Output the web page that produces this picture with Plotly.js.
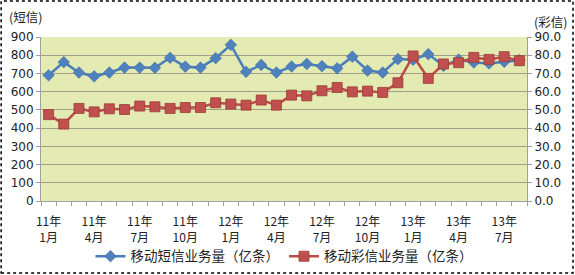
<!DOCTYPE html>
<html>
<head>
<meta charset="utf-8">
<script src="https://cdn.plot.ly/plotly-3.0.1.min.js"></script>
<style>html,body{margin:0;padding:0;background:#fff;}#chart{width:575px;height:275px;}</style>
</head>
<body>
<div id="chart"></div>
<script>
// 32 months, 2011-01 .. 2013-08
const months = ["11年1月","11年2月","11年3月","11年4月","11年5月","11年6月","11年7月","11年8月","11年9月","11年10月","11年11月","11年12月",
  "12年1月","12年2月","12年3月","12年4月","12年5月","12年6月","12年7月","12年8月","12年9月","12年10月","12年11月","12年12月",
  "13年1月","13年2月","13年3月","13年4月","13年5月","13年6月","13年7月","13年8月"];
const smsVolume = [690,762,705,684,705,732,732,731,786,737,732,784,857,709,747,705,
  738,752,740,728,792,716,705,779,775,806,742,776,760,755,764,773];
const mmsVolume = [47.4,42.2,50.8,48.9,50.6,50.2,52.1,51.7,50.8,51.3,51.3,53.9,53.2,52.6,55.4,52.6,
  58.1,57.7,60.5,62.3,59.9,60.3,59.6,64.9,79.6,67.3,75.2,75.9,78.8,77.7,79.2,77.0];
const tickLabels = ["11年<br>1月","11年<br>4月","11年<br>7月","11年<br>10月","12年<br>1月","12年<br>4月",
  "12年<br>7月","12年<br>10月","13年<br>1月","13年<br>4月","13年<br>7月"];
const seriesNames = ["移动短信业务量（亿条）","移动彩信业务量（亿条）"];
const leftTitle = "(短信)";
const rightTitle = "(彩信)";

const idx = months.map((m, i) => i);
const tickIdx = idx.filter(i => i % 3 === 0);
const FONT = "DejaVu Sans, Noto Sans CJK SC, sans-serif";
const CJK = "Noto Sans CJK SC, sans-serif";

const traces = [
  {x: idx, y: smsVolume, name: seriesNames[0], type: "scatter", mode: "lines+markers",
   line: {color: "#4a7ebb", width: 2.5},
   marker: {symbol: "diamond", size: 9, color: "#4f81bd", line: {color: "#3a6aa5", width: 0.5}},
   hovertext: months},
  {x: idx, y: mmsVolume, name: seriesNames[1], type: "scatter", mode: "lines+markers", yaxis: "y2",
   line: {color: "#be4b48", width: 2.5},
   marker: {symbol: "square", size: 10, color: "#c0504d", line: {color: "#9b3b38", width: 0.8}},
   hovertext: months}
];

const layout = {
  width: 575, height: 275,
  margin: {l: 41, r: 48, t: 37, b: 74, autoexpand: false},
  paper_bgcolor: "#ffffff",
  plot_bgcolor: "#e3eab2",
  showlegend: true,
  legend: {orientation: "h", x: 0.5, xanchor: "center", y: -0.338, yanchor: "middle",
    font: {family: CJK, size: 13.5, color: "#222"}, bgcolor: "rgba(0,0,0,0)", itemwidth: 30, tracegroupgap: 0},
  xaxis: {
    range: [-0.5, months.length - 0.5], tickmode: "array", tickvals: tickIdx, ticktext: tickLabels,
    ticks: "", showgrid: false, zeroline: false, showline: true, linecolor: "#a0a0a0", linewidth: 1,
    automargin: false, ticklabelstandoff: 10,
    tickfont: {family: CJK, size: 12, color: "#222"},
    minor: {tickmode: "linear", tick0: -0.5, dtick: 1, ticks: "outside", ticklen: 4, tickcolor: "#a0a0a0", showgrid: false}
  },
  yaxis: {
    range: [0, 900], dtick: 100, tickmode: "linear", tick0: 0, automargin: false,
    showgrid: true, gridcolor: "#a29f8c", gridwidth: 1, zeroline: false,
    showline: true, linecolor: "#a0a0a0", ticks: "outside", ticklen: 4, tickcolor: "#a0a0a0",
    tickfont: {family: FONT, size: 12, color: "#222"}
  },
  yaxis2: {
    range: [0, 90], dtick: 10, tickmode: "linear", tick0: 0, tickformat: ".1f", automargin: false,
    overlaying: "y", side: "right", showgrid: false, zeroline: false,
    showline: true, linecolor: "#a0a0a0", ticks: "outside", ticklen: 4, tickcolor: "#a0a0a0",
    tickfont: {family: FONT, size: 12, color: "#222"}
  },
  annotations: [
    {text: leftTitle, xref: "paper", yref: "paper", x: -0.07, y: 1.0, xanchor: "left", yanchor: "bottom", yshift: 9,
     showarrow: false, font: {family: CJK, size: 12.5, color: "#222"}},
    {text: rightTitle, xref: "paper", yref: "paper", x: 1.01, y: 1.0, xanchor: "left", yanchor: "bottom", yshift: 4,
     showarrow: false, font: {family: CJK, size: 12.5, color: "#222"}}
  ],
  shapes: [
    {type: "rect", xref: "paper", yref: "paper", x0: -0.082, x1: 1.0947, y0: -0.439, y1: 1.2195,
     line: {color: "#000", width: 1.5, dash: "dot"}}
  ]
};

Plotly.newPlot("chart", traces, layout, {displayModeBar: false, staticPlot: true});
</script>
</body>
</html>
